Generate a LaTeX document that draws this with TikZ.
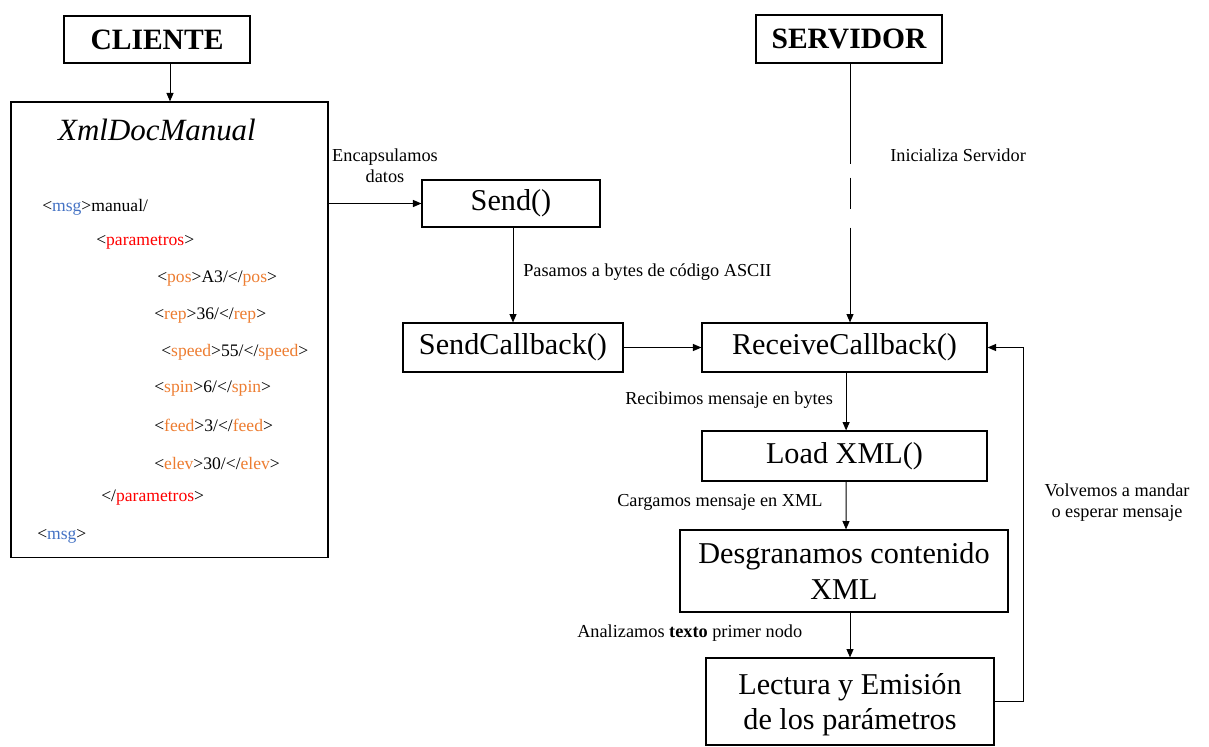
\documentclass[tikz,border=0pt]{standalone}
\usepackage{fontspec}
\setmainfont{Liberation Serif}
\usepackage{xcolor}
\usepackage{tikz}
\usetikzlibrary{calc,arrows.meta}
\definecolor{tagblue}{HTML}{4472C4}
\definecolor{tagred}{HTML}{FF0000}
\definecolor{tagorange}{HTML}{ED7D31}
\newcommand{\tagb}[1]{\textcolor{tagblue}{#1}}
\newcommand{\tagr}[1]{\textcolor{tagred}{#1}}
\newcommand{\tago}[1]{\textcolor{tagorange}{#1}}
\tikzset{
  box/.style={draw, line width=0.8pt, align=center, inner sep=0pt,
    font=\fontsize{21.5}{25}\selectfont},
  head/.style={box, font=\fontsize{21}{24}\selectfont\bfseries},
  lab/.style={inner sep=0pt, align=center, font=\fontsize{13}{15}\selectfont},
  xmlline/.style={inner sep=0pt, anchor=west, font=\fontsize{12.5}{14}\selectfont},
  arr/.style={draw, line width=0.7pt, -{Triangle[length=6pt,width=5pt]}},
  thin/.style={draw, line width=0.7pt},
}

\begin{document}
\begin{tikzpicture}[x=0.025cm, y=-0.025cm]
  \useasboundingbox (0,0) rectangle (1209,746);

  % client side
  \node[head, minimum width=4.65cm, minimum height=1.175cm] (cliente) at (157,39.5) {CLIENTE};
  \node[box, minimum width=7.925cm, minimum height=11.375cm] (doc) at (169.5,329.5) {};
  \node[inner sep=0pt, font=\fontsize{22}{26}\selectfont\itshape] (doctitle) at (157,130) {XmlDocManual};

  \node[xmlline] (x1) at (42,207) {<\tagb{msg}>manual/};
  \node[xmlline] (x2) at (96,242) {<\tagr{parametros}>};
  \node[xmlline] (x3) at (157,279) {<\tago{pos}>A3/</\tago{pos}>};
  \node[xmlline] (x4) at (154,316) {<\tago{rep}>36/</\tago{rep}>};
  \node[xmlline] (x5) at (161,352) {<\tago{speed}>55/</\tago{speed}>};
  \node[xmlline] (x6) at (154,389) {<\tago{spin}>6/</\tago{spin}>};
  \node[xmlline] (x7) at (154,425) {<\tago{feed}>3/</\tago{feed}>};
  \node[xmlline] (x8) at (154,463) {<\tago{elev}>30/</\tago{elev}>};
  \node[xmlline] (x9) at (101,498) {</\tagr{parametros}>};
  \node[xmlline] (x10) at (37,536) {<\tagb{msg}>};

  \node[box, minimum width=4.45cm, minimum height=1.175cm] (send) at (511,203.5) {Send()};
  \node[box, minimum width=5.5cm, minimum height=1.225cm] (sendcb) at (513,347.5) {SendCallback()};

  % server side
  \node[head, minimum width=4.65cm, minimum height=1.2cm] (servidor) at (849,39) {SERVIDOR};
  \node[box, minimum width=7.125cm, minimum height=1.225cm] (recvcb) at (844.5,347.5) {ReceiveCallback()};
  \node[box, minimum width=7.125cm, minimum height=1.25cm] (loadxml) at (844.5,456) {Load XML()};
  \node[box, minimum width=8.2cm, minimum height=2.05cm] (desgr) at (844,571) {Desgranamos contenido\\XML};
  \node[box, minimum width=7.2cm, minimum height=2.175cm, text depth=-0.15cm] (lectura) at (850,701.5) {Lectura y Emisión\\de los parámetros};

  % connectors
  \coordinate (sv) at ([xshift=0.025cm]servidor.south);
  \draw[arr] ([xshift=0.325cm]cliente.south) -- ([xshift=0.325cm]cliente.south |- doc.north);
  \draw[arr] (doc.east |- send.west) -- (send.west);
  \draw[arr] (send.south -| sendcb.north) -- (sendcb.north);
  \draw[arr] (sendcb.east) -- (recvcb.west);
  \draw[thin] (sv) -- ++(0,100);
  \draw[thin] ($(sv)+(0,114)$) -- ++(0,31);
  \draw[arr] ($(sv)+(0,164)$) -- (sv |- recvcb.north);
  \draw[arr] ([xshift=0.04cm]recvcb.south) -- ([xshift=0.04cm]loadxml.north);
  \draw[arr] ([xshift=0.04cm]loadxml.south) -- ([xshift=0.05cm]desgr.north);
  \draw[arr] (desgr.south -| lectura.north) -- (lectura.north);
  \draw[arr] (lectura.east) -- ++(29,0) |- (recvcb.east);

  % labels
  \node[lab] (lenc) at (385,166) {Encapsulamos\\datos};
  \node[lab, anchor=west] (lpas) at (523,272) {Pasamos a bytes de código ASCII};
  \node[lab, anchor=west] (lini) at (890,155) {Inicializa Servidor};
  \node[lab, anchor=west] (lrec) at (625,400) {Recibimos mensaje en bytes};
  \node[lab, anchor=west] (lcar) at (617,502) {Cargamos mensaje en XML};
  \node[lab, anchor=west] (lana) at (577,633) {Analizamos \textbf{texto} primer nodo};
  \node[lab] (lvol) at (1117,503) {Volvemos a mandar\\o esperar mensaje};
\end{tikzpicture}
\end{document}
